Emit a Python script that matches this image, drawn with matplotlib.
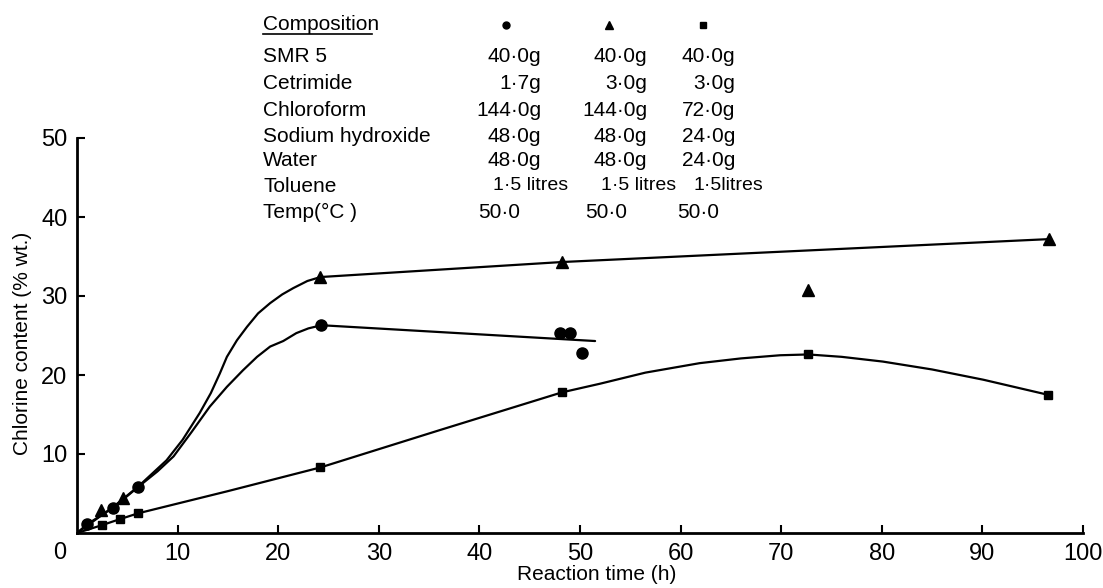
import matplotlib
matplotlib.use("Agg")
import matplotlib.pyplot as plt
from matplotlib import font_manager
from matplotlib.lines import Line2D

# ---------------- data ----------------
circ_x = [1.0, 3.6, 6.1, 24.3, 48.0, 49.0, 50.2]
circ_y = [1.1, 3.2, 5.85, 26.3, 25.3, 25.3, 22.8]
tri_x = [2.4, 4.6, 24.2, 48.2, 72.7, 96.6]
tri_y = [2.9, 4.4, 32.4, 34.3, 30.8, 37.2]
sq_x = [2.5, 4.3, 6.1, 24.2, 48.2, 72.7, 96.5]
sq_y = [1.0, 1.77, 2.5, 8.3, 17.8, 22.6, 17.5]

# hand-drawn fitted curves
tri_curve_x = [0, 3.6, 6.1, 8.9, 10.5, 12.2, 13.3, 14.2, 14.9, 15.9, 16.9, 18.0, 19.2, 20.4, 21.5, 22.9, 24.2, 48.2, 96.6]
tri_curve_y = [0, 3.3, 5.9, 9.2, 11.8, 15.2, 17.7, 20.2, 22.3, 24.4, 26.1, 27.8, 29.1, 30.2, 31.0, 31.9, 32.4, 34.3, 37.2]
circ_curve_x = [0, 1.0, 3.6, 6.1, 8.0, 9.6, 11.4, 13.2, 14.9, 16.5, 17.9, 19.2, 20.5, 21.8, 23.0, 24.3, 51.5]
circ_curve_y = [0, 1.1, 3.2, 5.85, 7.8, 9.7, 12.8, 16.0, 18.5, 20.6, 22.3, 23.6, 24.3, 25.3, 25.9, 26.3, 24.3]
sq_curve_x = [0, 2.5, 4.3, 6.1, 15.0, 24.2, 36.0, 48.2, 52.0, 56.5, 61.9, 66.0, 69.9, 72.7, 76.0, 80.1, 85.0, 90.1, 96.5]
sq_curve_y = [0, 1.0, 1.77, 2.5, 5.3, 8.3, 13.0, 17.8, 18.9, 20.3, 21.5, 22.1, 22.5, 22.6, 22.3, 21.7, 20.7, 19.4, 17.5]

x_ticks = [10, 20, 30, 40, 50, 60, 70, 80, 90, 100]
y_ticks = [10, 20, 30, 40, 50]

table_labels = ["SMR 5", "Cetrimide", "Chloroform", "Sodium hydroxide",
                "Water", "Toluene", "Temp(°C )"]
col1 = ["40·0g", "1·7g", "144·0g", "48·0g", "48·0g", "1·5 litres", "50·0"]
col2 = ["40·0g", "3·0g", "144·0g", "48·0g", "48·0g", "1·5 litres", "50·0"]
col3 = ["40·0g", "3·0g", "72·0g", "24·0g", "24·0g", "1·5litres", "50·0"]

# ---------------- fonts ----------------
names = {f.name for f in font_manager.fontManager.ttflist}
fam = "Liberation Sans Narrow" if "Liberation Sans Narrow" in names else "Liberation Sans"
plt.rcParams["font.family"] = [fam, "DejaVu Sans"]

W, H = 1103, 588
fig = plt.figure(figsize=(W / 100, H / 100), dpi=100)
ax = fig.add_axes([77 / W, 1 - 533 / H, 1006 / W, 395 / H])

lw = 1.6
ax.plot(tri_curve_x, tri_curve_y, color="black", lw=lw, solid_capstyle="round")
ax.plot(circ_curve_x, circ_curve_y, color="black", lw=lw, solid_capstyle="round")
ax.plot(sq_curve_x, sq_curve_y, color="black", lw=lw, solid_capstyle="round")
ax.plot(circ_x, circ_y, "o", color="black", ms=8, zorder=3)
ax.plot(tri_x, tri_y, "^", color="black", ms=9, zorder=3)
ax.plot(sq_x, sq_y, "s", color="black", ms=6, zorder=3)

ax.set_xlim(0, 100)
ax.set_ylim(0, 50)
for s in ["top", "right"]:
    ax.spines[s].set_visible(False)
for s in ["left", "bottom"]:
    ax.spines[s].set_linewidth(2)
ax.set_xticks(x_ticks)
ax.set_yticks(y_ticks)
ax.tick_params(direction="in", length=6, width=1.5, labelsize=17, pad=7)
ax.text(-1.7, -0.05, "0", transform=ax.get_xaxis_transform(), ha="center",
        va="center", fontsize=17)
ax.set_xlabel("Reaction time (h)", fontsize=15)
ax.xaxis.set_label_coords(0.517, -0.082)
ax.set_ylabel("Chlorine content (% wt.)", fontsize=15)
ax.yaxis.set_label_coords(-0.045, 0.48)


def fx(px):
    return px / W


def fy(py):
    return 1 - py / H


fs = 15
fig.text(fx(263), fy(25), "Composition", fontsize=fs, va="center", ha="left")
fig.add_artist(Line2D([fx(263), fx(372)], [fy(34), fy(34)], color="black", lw=1.2))
fig.add_artist(Line2D([fx(506)], [fy(25)], marker="o", color="black", ms=5))
fig.add_artist(Line2D([fx(609)], [fy(25)], marker="^", color="black", ms=6))
fig.add_artist(Line2D([fx(703)], [fy(25)], marker="s", color="black", ms=5))

rows_y = [57, 84, 111, 136, 161, 186, 212]
for i, lab in enumerate(table_labels):
    y = fy(rows_y[i])
    fig.text(fx(263), y, lab, fontsize=fs, va="center", ha="left")
    if i < 5:
        fig.text(fx(541), y, col1[i], fontsize=fs, va="center", ha="right")
        fig.text(fx(647), y, col2[i], fontsize=fs, va="center", ha="right")
        fig.text(fx(735), y, col3[i], fontsize=fs, va="center", ha="right")
    elif i == 5:
        fig.text(fx(493), y, col1[i], fontsize=fs - 1, va="center", ha="left")
        fig.text(fx(601), y, col2[i], fontsize=fs - 1, va="center", ha="left")
        fig.text(fx(763), y, col3[i], fontsize=fs - 1, va="center", ha="right")
    else:
        fig.text(fx(478), y, col1[i], fontsize=fs, va="center", ha="left")
        fig.text(fx(585), y, col2[i], fontsize=fs, va="center", ha="left")
        fig.text(fx(677), y, col3[i], fontsize=fs, va="center", ha="left")

fig.savefig("out.png", dpi=100)
print("font:", fam)
